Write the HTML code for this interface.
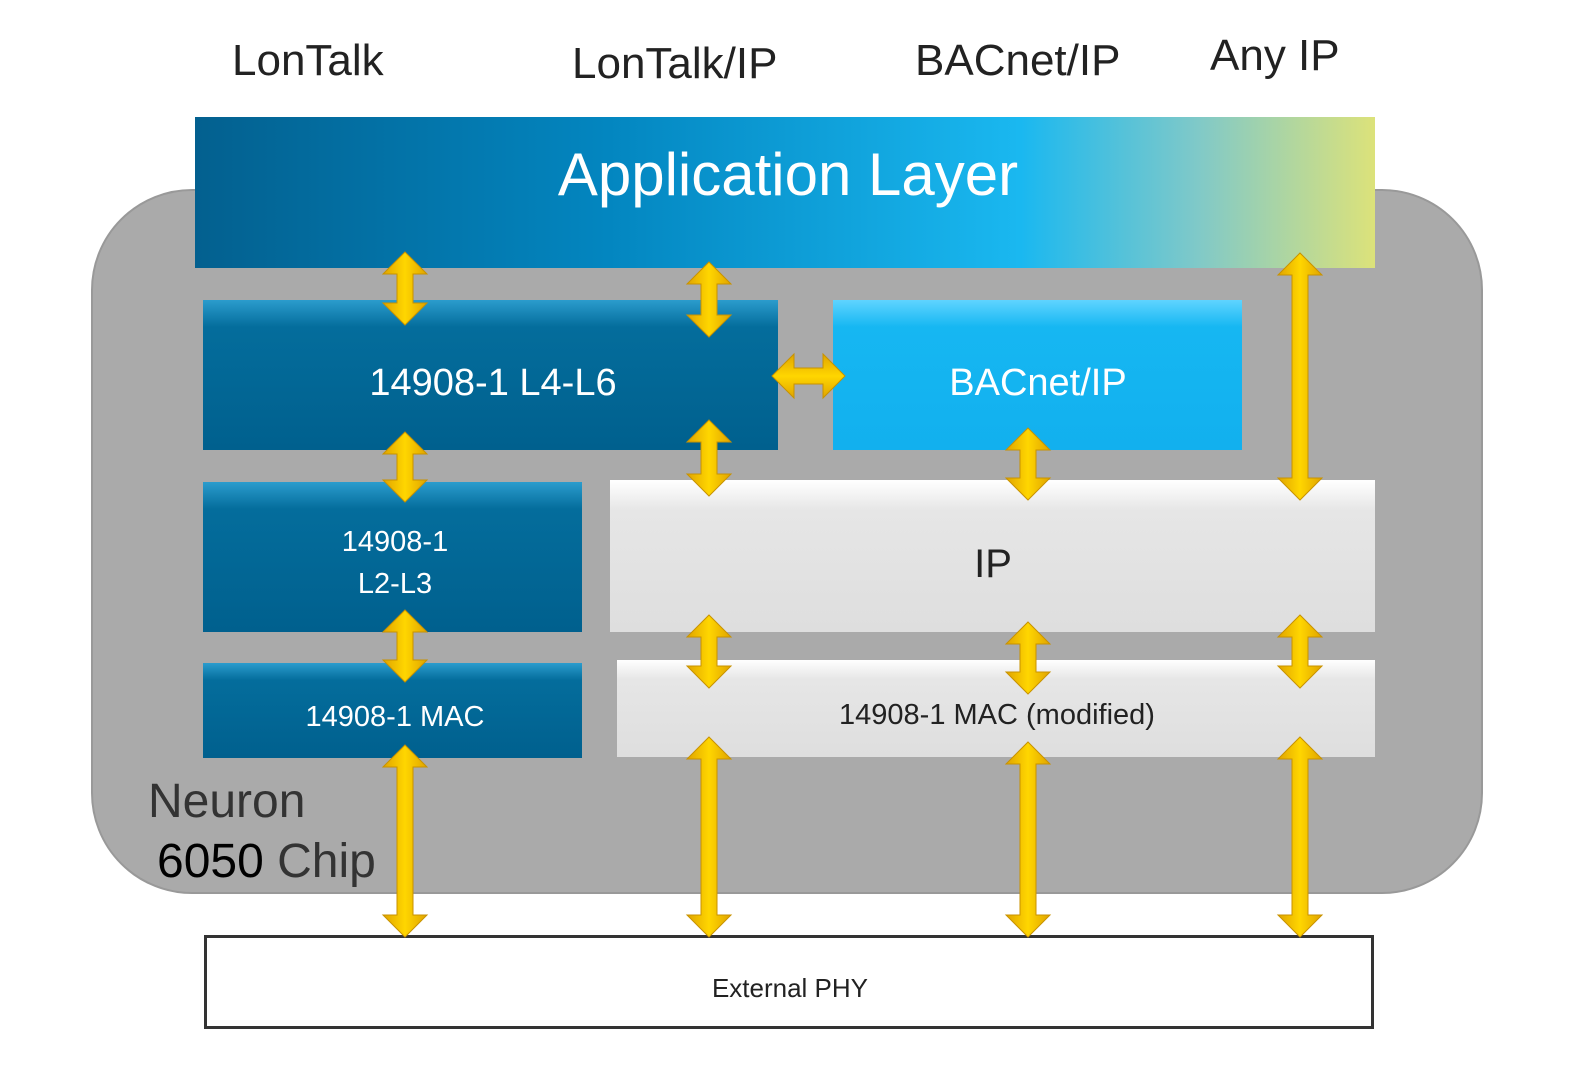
<!DOCTYPE html>
<html><head><meta charset="utf-8"><style>
html,body{margin:0;padding:0;background:#fff;}
svg{display:block;}
text{font-family:"Liberation Sans",sans-serif;}
</style></head><body>
<svg width="1586" height="1082" viewBox="0 0 1586 1082" xmlns="http://www.w3.org/2000/svg">
<defs>
<linearGradient id="app" x1="0" y1="0" x2="1" y2="0">
<stop offset="0" stop-color="#03608f"/><stop offset="0.35" stop-color="#0386c0"/><stop offset="0.7" stop-color="#1ab8f0"/><stop offset="0.85" stop-color="#80c9c8"/><stop offset="1" stop-color="#dce27a"/>
</linearGradient>
<linearGradient id="dk" x1="0" y1="0" x2="0" y2="1">
<stop offset="0" stop-color="#2b9ccd"/><stop offset="0.18" stop-color="#046d9c"/><stop offset="1" stop-color="#00608e"/>
</linearGradient>
<linearGradient id="lt" x1="0" y1="0" x2="0" y2="1">
<stop offset="0" stop-color="#5fd4ff"/><stop offset="0.18" stop-color="#16b7f2"/><stop offset="1" stop-color="#12b0ee"/>
</linearGradient>
<linearGradient id="gr" x1="0" y1="0" x2="0" y2="1">
<stop offset="0" stop-color="#ffffff"/><stop offset="0.2" stop-color="#e6e6e6"/><stop offset="1" stop-color="#dedede"/>
</linearGradient>
<linearGradient id="ar" x1="0" y1="0" x2="1" y2="0">
<stop offset="0" stop-color="#e0a400"/><stop offset="0.5" stop-color="#ffd600"/><stop offset="1" stop-color="#e0a400"/>
</linearGradient>
<linearGradient id="arh" x1="0" y1="0" x2="0" y2="1">
<stop offset="0" stop-color="#e0a400"/><stop offset="0.5" stop-color="#ffd600"/><stop offset="1" stop-color="#e0a400"/>
</linearGradient>
</defs>
<rect x="92" y="190" width="1390" height="703" rx="100" fill="#aaaaaa" stroke="#999" stroke-width="2"/>
<rect x="195" y="117" width="1180" height="151" fill="url(#app)"/>
<rect x="203" y="300" width="575" height="150" fill="url(#dk)"/>
<rect x="833" y="300" width="409" height="150" fill="url(#lt)"/>
<rect x="203" y="482" width="379" height="150" fill="url(#dk)"/>
<rect x="610" y="480" width="765" height="152" fill="url(#gr)"/>
<rect x="203" y="663" width="379" height="95" fill="url(#dk)"/>
<rect x="617" y="660" width="758" height="97" fill="url(#gr)"/>
<rect x="205.5" y="936.5" width="1167" height="91" fill="#fff" stroke="#333" stroke-width="3"/>
<g fill="url(#ar)" stroke="#c89200" stroke-width="1">
<polygon points="405,252 427,274 413,274 413,303 427,303 405,325 383,303 397,303 397,274 383,274"/>
<polygon points="405,432 427,454 413,454 413,480 427,480 405,502 383,480 397,480 397,454 383,454"/>
<polygon points="405,610 427,632 413,632 413,660 427,660 405,682 383,660 397,660 397,632 383,632"/>
<polygon points="405,745 427,767 413,767 413,915 427,915 405,937 383,915 397,915 397,767 383,767"/>
<polygon points="709,262 731,284 717,284 717,315 731,315 709,337 687,315 701,315 701,284 687,284"/>
<polygon points="709,420 731,442 717,442 717,474 731,474 709,496 687,474 701,474 701,442 687,442"/>
<polygon points="709,615 731,637 717,637 717,666 731,666 709,688 687,666 701,666 701,637 687,637"/>
<polygon points="709,737 731,759 717,759 717,915 731,915 709,937 687,915 701,915 701,759 687,759"/>
<polygon points="1028,428 1050,450 1036,450 1036,478 1050,478 1028,500 1006,478 1020,478 1020,450 1006,450"/>
<polygon points="1028,622 1050,644 1036,644 1036,672 1050,672 1028,694 1006,672 1020,672 1020,644 1006,644"/>
<polygon points="1028,742 1050,764 1036,764 1036,915 1050,915 1028,937 1006,915 1020,915 1020,764 1006,764"/>
<polygon points="1300,253 1322,275 1308,275 1308,478 1322,478 1300,500 1278,478 1292,478 1292,275 1278,275"/>
<polygon points="1300,615 1322,637 1308,637 1308,666 1322,666 1300,688 1278,666 1292,666 1292,637 1278,637"/>
<polygon points="1300,737 1322,759 1308,759 1308,915 1322,915 1300,937 1278,915 1292,915 1292,759 1278,759"/>
</g>
<polygon fill="url(#arh)" stroke="#c89200" points="772,376 794,354 794,368 823,368 823,354 845,376 823,398 823,384 794,384 794,398"/>
<g fill="#222" font-size="44">
<text x="232" y="75">LonTalk</text>
<text x="572" y="78">LonTalk/IP</text>
<text x="915" y="75">BACnet/IP</text>
<text x="1210" y="70">Any IP</text>
</g>
<g fill="#fff" text-anchor="middle">
<text x="788" y="195" font-size="60">Application Layer</text>
<text x="493" y="395" font-size="38">14908-1 L4-L6</text>
<text x="1038" y="395" font-size="38">BACnet/IP</text>
<text x="395" y="551" font-size="29">14908-1</text>
<text x="395" y="593" font-size="29">L2-L3</text>
<text x="395" y="726" font-size="29">14908-1 MAC</text>
</g>
<g fill="#222" text-anchor="middle">
<text x="993" y="577" font-size="40">IP</text>
<text x="997" y="724" font-size="29">14908-1 MAC (modified)</text>
<text x="790" y="997" font-size="26">External PHY</text>
</g>
<g fill="#333" font-size="48">
<text x="148" y="817">Neuron</text>
<text x="157" y="877"><tspan fill="#000">6050</tspan> Chip</text>
</g>
</svg>
</body></html>
